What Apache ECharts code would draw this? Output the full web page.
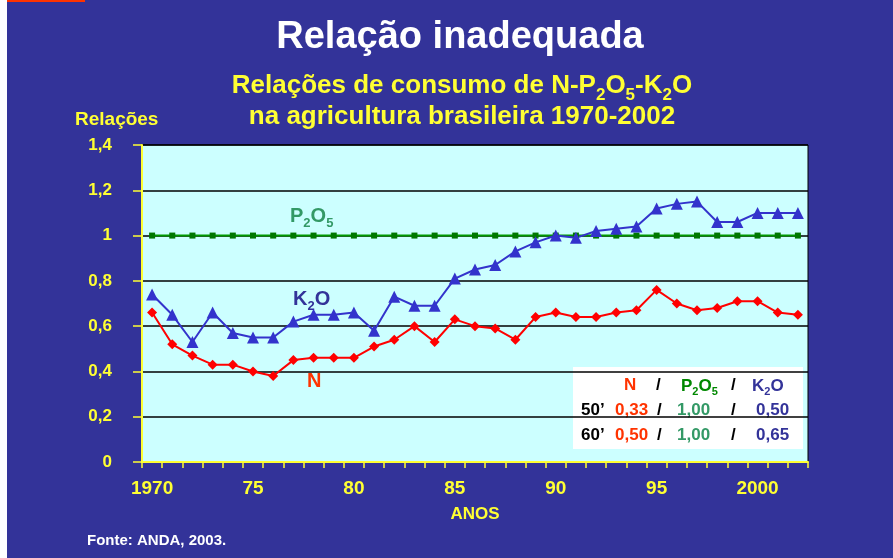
<!DOCTYPE html>
<html lang="pt">
<head>
<meta charset="UTF-8">
<title>Relação inadequada</title>
<script src="https://cdn.jsdelivr.net/npm/echarts@6/dist/echarts.min.js"></script>
<style>
  html, body { margin: 0; padding: 0; background: #333399; }
  #main { width: 893px; height: 558px; }
</style>
</head>
<body>
<div id="main"></div>
<script>
// anos 1970-2002
const anos = [1970,1971,1972,1973,1974,1975,1976,1977,1978,1979,1980,1981,1982,1983,1984,1985,1986,
  1987,1988,1989,1990,1991,1992,1993,1994,1995,1996,1997,1998,1999,2000,2001,2002];
const relN = [0.66,0.52,0.47,0.43,0.43,0.40,0.38,0.45,0.46,0.46,0.46,0.51,0.54,0.60,0.53,0.63,0.60,
  0.59,0.54,0.64,0.66,0.64,0.64,0.66,0.67,0.76,0.70,0.67,0.68,0.71,0.71,0.66,0.65];
const relP2O5 = [1,1,1,1,1,1,1,1,1,1,1,1,1,1,1,1,1,1,1,1,1,1,1,1,1,1,1,1,1,1,1,1,1];
const relK2O = [0.74,0.65,0.53,0.66,0.57,0.55,0.55,0.62,0.65,0.65,0.66,0.58,0.73,0.69,0.69,0.81,0.85,
  0.87,0.93,0.97,1.00,0.99,1.02,1.03,1.04,1.12,1.14,1.15,1.06,1.06,1.10,1.10,1.10];

// tabela 50' / 60'
const tabLinhas = ["50’", "60’"];
const tabN = ["0,33", "0,50"];
const tabP = ["1,00", "1,00"];
const tabK = ["0,50", "0,65"];

const AMARELO = '#ffff33';
const FONTE = 'Liberation Sans, Arial, sans-serif';

var chart = echarts.init(document.getElementById('main'));

function subEstilo(tam, desce) {
  return { s: { fontSize: tam, fontWeight: 'bold', fontFamily: FONTE, padding: [desce, 0, 0, 0] } };
}

function txt(x, y, texto, tam, cor, rich) {
  var st = { text: texto, x: x, y: y, font: 'bold ' + tam + 'px ' + FONTE, fill: cor, verticalAlign: 'middle' };
  if (rich) st.rich = rich;
  return { type: 'text', style: st };
}

function linhaTabela(i, y) {
  return [
    txt(581, y, tabLinhas[i], 17, '#000'),
    txt(615, y, tabN[i], 17, '#ff3300'),
    txt(657, y, '/', 17, '#000'),
    txt(677, y, tabP[i], 17, '#339966'),
    txt(731, y, '/', 17, '#000'),
    txt(756, y, tabK[i], 17, '#333399')
  ];
}

var option = {
  backgroundColor: '#333399',
  animation: false,
  grid: { left: 142, right: 85, top: 145, bottom: 96, show: true, backgroundColor: '#ccffff', borderColor: '#000', borderWidth: 1 },
  xAxis: {
    type: 'category',
    data: anos,
    boundaryGap: true,
    axisLine: { lineStyle: { color: AMARELO, width: 2 } },
    axisTick: { show: true, interval: 0, length: 6, lineStyle: { color: AMARELO, width: 1.5 } },
    axisLabel: {
      interval: 4, margin: 17,
      color: AMARELO, fontSize: 19, fontWeight: 'bold', fontFamily: FONTE,
      formatter: function (v) { v = +v; return (v === 1970 || v === 2000) ? String(v) : String(v % 100).padStart(2, '0'); }
    },
    name: 'ANOS', nameLocation: 'middle', nameGap: 44,
    nameTextStyle: { color: AMARELO, fontSize: 17, fontWeight: 'bold', fontFamily: FONTE }
  },
  yAxis: {
    type: 'value',
    min: 0, max: 1.4, interval: 0.2,
    axisLine: { show: true, lineStyle: { color: AMARELO, width: 2 } },
    axisTick: { show: true, length: 9, lineStyle: { color: AMARELO, width: 1.5 } },
    axisLabel: {
      margin: 30, color: AMARELO, fontSize: 17, fontWeight: 'bold', fontFamily: FONTE,
      formatter: function (v) { return String(Math.round(v * 10) / 10).replace('.', ','); }
    },
    splitLine: { lineStyle: { color: '#000', width: 1.5 } }
  },
  series: [
    {
      name: 'P2O5', type: 'line', data: relP2O5,
      symbol: 'rect', symbolSize: 6,
      lineStyle: { color: '#009900', width: 2 },
      itemStyle: { color: '#007700' }
    },
    {
      name: 'K2O', type: 'line', data: relK2O,
      symbol: 'triangle', symbolSize: 12,
      lineStyle: { color: '#3333cc', width: 2 },
      itemStyle: { color: '#3333cc' }
    },
    {
      name: 'N', type: 'line', data: relN,
      symbol: 'diamond', symbolSize: 10,
      lineStyle: { color: '#ff0000', width: 2 },
      itemStyle: { color: '#ff0000' }
    }
  ],
  graphic: [
    { type: 'rect', left: 0, top: 0, shape: { width: 7, height: 558 }, style: { fill: '#fff' } },
    { type: 'rect', left: 7, top: 0, shape: { width: 78, height: 2 }, style: { fill: '#ff3300' } },
    { type: 'text', style: { text: 'Relação inadequada', x: 460, y: 38, align: 'center', verticalAlign: 'middle', font: 'bold 38px ' + FONTE, fill: '#fff' } },
    {
      type: 'text',
      style: {
        text: 'Relações de consumo de N-P{s|2}O{s|5}-K{s|2}O', x: 462, y: 86, align: 'center', verticalAlign: 'middle',
        font: 'bold 26px ' + FONTE, fill: AMARELO, rich: subEstilo(17, 18)
      }
    },
    { type: 'text', style: { text: 'na agricultura brasileira 1970-2002', x: 462, y: 117, align: 'center', verticalAlign: 'middle', font: 'bold 26px ' + FONTE, fill: AMARELO } },
    txt(75, 120, 'Relações', 19, AMARELO),
    txt(87, 541, 'Fonte: ANDA, 2003.', 15, '#fff'),
    txt(290, 216, 'P{s|2}O{s|5}', 20, '#339966', subEstilo(13, 14)),
    txt(293, 299, 'K{s|2}O', 20, '#333399', subEstilo(13, 14)),
    txt(307, 381, 'N', 20, '#ff3300'),
    { type: 'rect', left: 573, top: 367, shape: { width: 230, height: 82 }, style: { fill: '#fff' } },
    txt(624, 385, 'N', 17, '#ff3300'),
    txt(656, 385, '/', 17, '#000'),
    txt(681, 386, 'P{s|2}O{s|5}', 17, '#008800', subEstilo(11, 12)),
    txt(731, 385, '/', 17, '#000'),
    txt(752, 386, 'K{s|2}O', 17, '#333399', subEstilo(11, 12))
  ].concat(linhaTabela(0, 410), linhaTabela(1, 435))
};

chart.setOption(option);
</script>
</body>
</html>
